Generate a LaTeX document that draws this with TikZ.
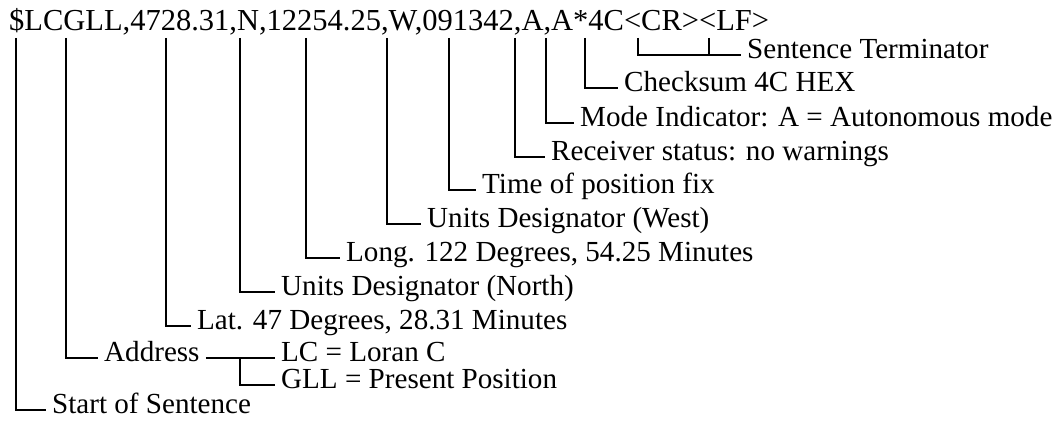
\documentclass[tikz,border=0pt]{standalone}
\usepackage{fontspec}
\setmainfont{Liberation Serif}
\usetikzlibrary{positioning}

\newcommand{\nmeafont}{\fontsize{29.1}{34}\selectfont}

\begin{document}
\begin{tikzpicture}[x=1pt,y=-1pt,
    lbl/.style={anchor=west,font=\nmeafont,inner xsep=6pt,inner ysep=0pt,text height=0.72em,text depth=0.05em},
    lead/.style={line width=2.6pt}]
  \useasboundingbox (0,0) rectangle (1058,438);

  % the sentence
  \node[anchor=base west,inner sep=0pt,font=\fontsize{30.5}{34}\selectfont] (msg) at (9,31) {\$LCGLL,4728.31,N,12254.25,W,091342,A,A*4C<CR><LF>};

  % tap points under the fields
  \coordinate (tStart) at (16,38);
  \coordinate (tAddr) at (66,38);
  \coordinate (tLat) at (166,38);
  \coordinate (tN) at (240,38);
  \coordinate (tLong) at (306,38);
  \coordinate (tW) at (387,38);
  \coordinate (tTime) at (449,38);
  \coordinate (tRec) at (515,38);
  \coordinate (tMode) at (546,38);
  \coordinate (tCS) at (585,38);
  \coordinate (tCR) at (638,38);
  \coordinate (tLF) at (709,38);
  \coordinate (fork) at (240,38);

  % labels
  \node[lbl] (term) at (741,55) {Sentence Terminator};
  \node[lbl] (chk) at (618,88) {Checksum 4C HEX};
  \node[lbl] (mode) at (574,123) {Mode Indicator: A = Autonomous mode};
  \node[lbl] (rec) at (545,157) {Receiver status: no warnings};
  \node[lbl] (time) at (476,190) {Time of position fix};
  \node[lbl] (west) at (421,224) {Units Designator (West)};
  \node[lbl] (long) at (340,258) {Long. 122 Degrees, 54.25 Minutes};
  \node[lbl] (north) at (275,292) {Units Designator (North)};
  \node[lbl] (lat) at (191,326) {Lat. 47 Degrees, 28.31 Minutes};
  \node[lbl] (addr) at (98,358) {Address};
  \node[lbl] (lc) at (275,358) {LC = Loran C};
  \node[lbl] (gll) at (275,385) {GLL = Present Position};
  \node[lbl] (start) at (46,410) {Start of Sentence};

  % leaders
  \draw[lead] (tCR) |- (term.west);
  \draw[lead] (tLF) -- (tLF |- term.west);
  \draw[lead] (tCS) |- (chk.west);
  \draw[lead] (tMode) |- (mode.west);
  \draw[lead] (tRec) |- (rec.west);
  \draw[lead] (tTime) |- (time.west);
  \draw[lead] (tW) |- (west.west);
  \draw[lead] (tLong) |- (long.west);
  \draw[lead] (tN) |- (north.west);
  \draw[lead] (tLat) |- (lat.west);
  \draw[lead] (tAddr) |- (addr.west);
  \draw[lead] (addr.east) -- (lc.west);
  \draw[lead] (fork |- lc.west) |- (gll.west);
  \draw[lead] (tStart) |- (start.west);
\end{tikzpicture}
\end{document}
